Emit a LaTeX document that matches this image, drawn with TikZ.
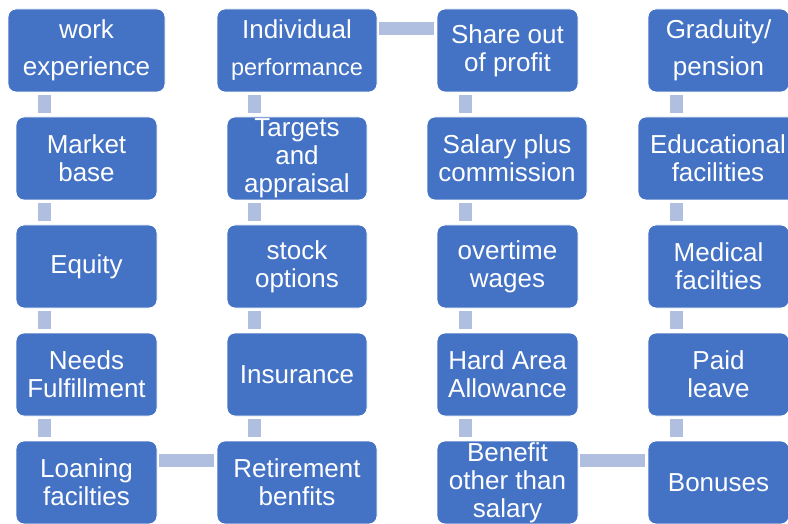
\documentclass[tikz,border=0pt]{standalone}
\usepackage{fontspec}
\setmainfont{Liberation Sans}
\definecolor{boxblue}{HTML}{4472C4}
\definecolor{connblue}{HTML}{B0BEDF}
\begin{document}
\begin{tikzpicture}[x=1pt,y=-1pt,
  box/.style={draw=white, line width=0.8pt, fill=boxblue, rounded corners=8pt,
    text=white, align=center, inner sep=0pt, minimum height=83pt,
    font=\fontsize{26}{28}\selectfont},
  wide/.style={font=\fontsize{26}{37}\selectfont},
  vconn/.style={draw=connblue, line width=13pt, shorten <=3pt, shorten >=4pt},
  hconn/.style={draw=connblue, line width=13pt, shorten <=2pt, shorten >=3pt}]
\path[use as bounding box, clip] (0,0) rectangle (788,524);
% column 1
\node[box, wide, minimum width=157pt] (work) at (86.5,50.5) {work\\experience};
\node[box, minimum width=141pt] (market) at (86.5,158.5) {Market\\base};
\node[box, minimum width=141pt] (equity) at (86.5,266.5) {Equity};
\node[box, minimum width=141pt] (needs) at (86.5,374.5) {Needs\\Fulfillment};
\node[box, minimum width=141pt] (loan) at (86.5,482.5) {Loaning\\facilties};
% column 2
\node[box, wide, minimum width=160pt] (indiv) at (297,50.5) {Individual\\{\fontsize{23.5}{37}\selectfont performance}};
\node[box, minimum width=140pt] (targets) at (297,158.5) {Targets\\and\\appraisal};
\node[box, minimum width=140pt] (stock) at (297,266.5) {stock\\options};
\node[box, minimum width=140pt] (insur) at (297,374.5) {Insurance};
\node[box, minimum width=160pt] (retire) at (297,482.5) {Retirement\\benfits};
% column 3
\node[box, minimum width=141pt] (share) at (507.5,50.5) {Share out\\of profit};
\node[box, minimum width=160pt] (salary) at (507,158.5) {Salary plus\\commission};
\node[box, minimum width=141pt] (overtime) at (507.5,266.5) {overtime\\wages};
\node[box, minimum width=141pt] (hard) at (507.5,374.5) {Hard Area\\Allowance};
\node[box, minimum width=141pt] (benefit) at (507.5,482.5) {Benefit\\other than\\salary};
% column 4
\node[box, wide, minimum width=141pt] (grad) at (718.5,50.5) {Graduity/\\pension};
\node[box, minimum width=160pt] (edu) at (718,158.5) {Educational\\facilities};
\node[box, minimum width=141pt] (medical) at (718.5,266.5) {Medical\\facilties};
\node[box, minimum width=141pt] (paid) at (718.5,374.5) {Paid\\leave};
\node[box, minimum width=141pt] (bonus) at (718.5,482.5) {Bonuses};
% connector guide coordinates
\coordinate (cx1) at (44.5,0);
\coordinate (cx2) at (254.5,0);
\coordinate (cx3) at (465.5,0);
\coordinate (cx4) at (676.5,0);
\coordinate (hyt) at (0,28.5);
\coordinate (hyb) at (0,460.5);
% vertical connectors
\draw[vconn] (work.south -| cx1) -- (market.north -| cx1);
\draw[vconn] (market.south -| cx1) -- (equity.north -| cx1);
\draw[vconn] (equity.south -| cx1) -- (needs.north -| cx1);
\draw[vconn] (needs.south -| cx1) -- (loan.north -| cx1);
\draw[vconn] (indiv.south -| cx2) -- (targets.north -| cx2);
\draw[vconn] (targets.south -| cx2) -- (stock.north -| cx2);
\draw[vconn] (stock.south -| cx2) -- (insur.north -| cx2);
\draw[vconn] (insur.south -| cx2) -- (retire.north -| cx2);
\draw[vconn] (share.south -| cx3) -- (salary.north -| cx3);
\draw[vconn] (salary.south -| cx3) -- (overtime.north -| cx3);
\draw[vconn] (overtime.south -| cx3) -- (hard.north -| cx3);
\draw[vconn] (hard.south -| cx3) -- (benefit.north -| cx3);
\draw[vconn] (grad.south -| cx4) -- (edu.north -| cx4);
\draw[vconn] (edu.south -| cx4) -- (medical.north -| cx4);
\draw[vconn] (medical.south -| cx4) -- (paid.north -| cx4);
\draw[vconn] (paid.south -| cx4) -- (bonus.north -| cx4);
% horizontal connectors
\draw[hconn] (indiv.east |- hyt) -- (share.west |- hyt);
\draw[hconn] (loan.east |- hyb) -- (retire.west |- hyb);
\draw[hconn] (benefit.east |- hyb) -- (bonus.west |- hyb);
\end{tikzpicture}
\end{document}
